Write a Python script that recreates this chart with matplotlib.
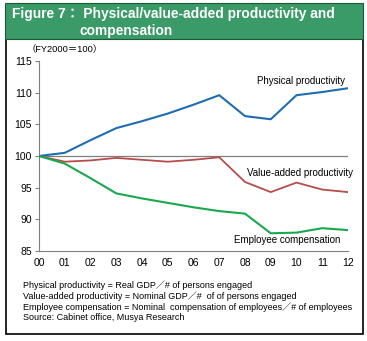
import matplotlib.pyplot as plt
from matplotlib.patches import Rectangle

plt.rcParams["font.family"] = ["Liberation Sans", "Noto Sans CJK JP", "DejaVu Sans"]

years = ["00", "01", "02", "03", "04", "05", "06", "07", "08", "09", "10", "11", "12"]
physical = [100.0, 100.5, 102.5, 104.4, 105.5, 106.7, 108.1, 109.6, 106.3, 105.8, 109.6, 110.1, 110.7]
value_added = [100.0, 99.1, 99.3, 99.7, 99.4, 99.1, 99.4, 99.8, 95.9, 94.3, 95.8, 94.7, 94.3]
compensation = [100.0, 98.8, 96.5, 94.1, 93.3, 92.6, 91.9, 91.3, 90.9, 87.8, 87.9, 88.6, 88.3]
yticks = [85, 90, 95, 100, 105, 110, 115]

notes = [
    "Physical productivity = Real GDP\uff0f# of persons engaged",
    "Value-added productivity = Nominal GDP\uff0f#  of of persons engaged",
    "Employee compensation = Nominal  compensation of employees\uff0f# of employees",
    "Source: Cabinet office, Musya Research",
]

W, H = 367, 341
fig = plt.figure(figsize=(W / 100, H / 100), dpi=100)

# frame and title bar
fig.patches.append(Rectangle((6 / W, 1 - 334 / H), 357 / W, 295 / H, transform=fig.transFigure,
                             fill=False, edgecolor="black", linewidth=1.2))
fig.patches.append(Rectangle((5 / W, 1 - 39 / H), 358 / W, 36 / H, transform=fig.transFigure,
                             facecolor="#3a9a68", edgecolor="#1a5a38", linewidth=0.8))
fig.text(12 / W, 1 - 14 / H, "Figure 7\uff1a Physical/value-added productivity and",
         color="white", fontsize=9.9, fontweight="bold", va="center", ha="left")
fig.text(80 / W, 1 - 31 / H, "compensation",
         color="white", fontsize=9.9, fontweight="bold", va="center", ha="left")

ax = fig.add_axes([39 / W, 1 - 251 / H, 309 / W, 190 / H])
x = range(len(years))
ax.axhline(100, color="#808080", linewidth=0.9, zorder=1)
ax.plot(x, physical, color="#1f6db0", linewidth=1.5, zorder=3)
ax.plot(x, value_added, color="#b84c4a", linewidth=1.3, zorder=3)
ax.plot(x, compensation, color="#1aa84e", linewidth=1.5, zorder=3)

ax.set_xlim(0, len(years) - 1)
ax.set_ylim(85, 115)
ax.set_xticks(list(x))
ax.set_xticklabels(years)
ax.set_yticks(yticks)
ax.tick_params(labelsize=7.5, length=3, color="#808080", pad=2)
ax.tick_params(axis="x", length=0, pad=5)
for side in ["top", "right"]:
    ax.spines[side].set_visible(False)
for side in ["left", "bottom"]:
    ax.spines[side].set_color("#808080")
    ax.spines[side].set_linewidth(0.8)
ax.set_facecolor("none")

ax.text(11.9, 111.8, "Physical productivity", fontsize=7, ha="right", va="center")
ax.text(12.2, 97.3, "Value-added productivity", fontsize=7, ha="right", va="center")
ax.text(11.7, 86.8, "Employee compensation", fontsize=7, ha="right", va="center")

fig.text(27 / W, 1 - 50 / H, "\uff08FY2000\uff1d100\uff09", fontsize=6.7, va="center")

for i, line in enumerate(notes):
    fig.text(23 / W, 1 - (285 + i * 11) / H, line, fontsize=6.5, va="center")

fig.savefig("out.png", dpi=100)
